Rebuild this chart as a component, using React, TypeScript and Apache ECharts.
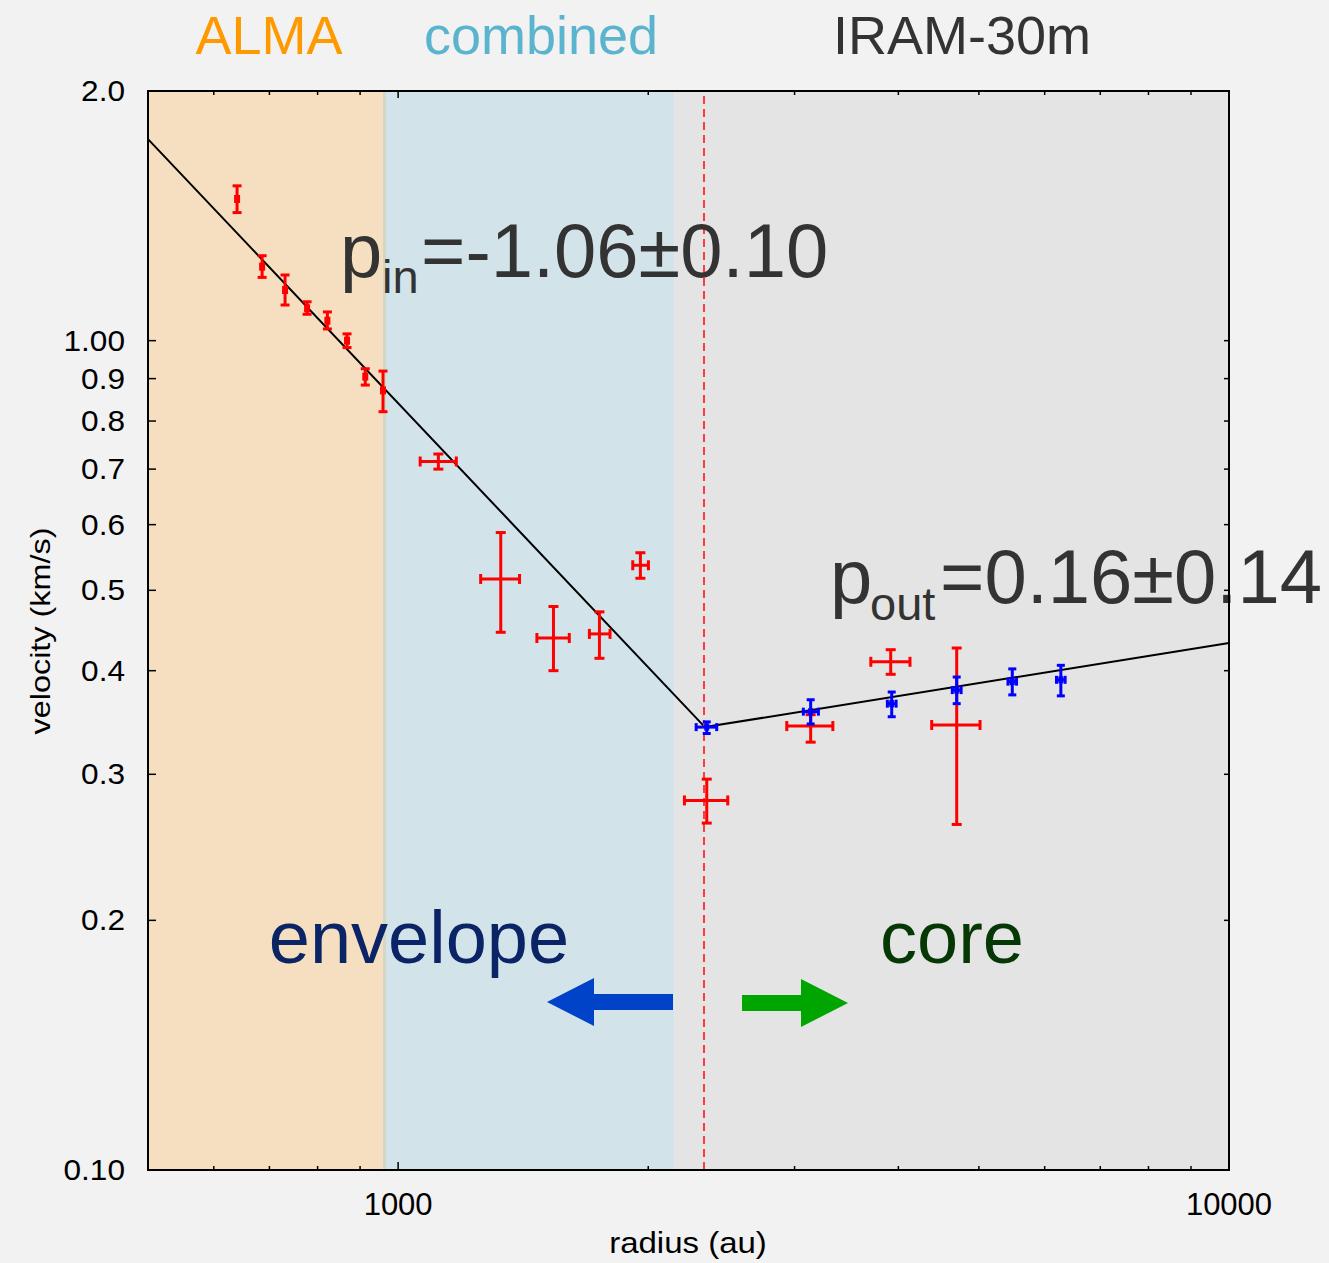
import React, { useEffect, useRef } from "react";
import * as echarts from "echarts";

const FONT = "'Liberation Sans', Arial, Helvetica, sans-serif";

// Axis extents
const RADIUS_MIN = 500;
const RADIUS_MAX = 10000;
const VEL_MIN = 0.1;
const VEL_MAX = 2.0;

// ALMA points (velocity errors only)
const almaRadius = [640, 686, 731, 777, 822, 868, 913, 959];
const almaVelocity = [1.482, 1.228, 1.151, 1.094, 1.057, 1.0, 0.905, 0.871];
const almaVelLow = [1.427, 1.192, 1.104, 1.076, 1.033, 0.981, 0.884, 0.821];
const almaVelHigh = [1.537, 1.266, 1.2, 1.114, 1.083, 1.019, 0.925, 0.919];

// Red points with radius and velocity errors
const redRadius = [1118, 1329, 1538, 1747, 1957, 2352, 3137, 3916, 4702];
const redVelocity = [0.715, 0.516, 0.438, 0.443, 0.536, 0.279, 0.343, 0.41, 0.344];
const redRadLow = [1063, 1257, 1469, 1699, 1916, 2211, 2936, 3706, 4387];
const redRadHigh = [1175, 1400, 1607, 1799, 2001, 2493, 3336, 4131, 5016];
const redVelLow = [0.7, 0.445, 0.4, 0.414, 0.517, 0.262, 0.328, 0.396, 0.261];
const redVelHigh = [0.73, 0.587, 0.478, 0.471, 0.555, 0.296, 0.354, 0.424, 0.426];

// Blue points
const blueRadius = [2352, 3137, 3927, 4702, 5485, 6275];
const blueVelocity = [0.342, 0.357, 0.365, 0.379, 0.388, 0.39];
const blueRadLow = [2284, 3074, 3880, 4645, 5420, 6200];
const blueRadHigh = [2418, 3205, 3975, 4760, 5550, 6350];
const blueVelLow = [0.336, 0.345, 0.352, 0.365, 0.374, 0.373];
const blueVelHigh = [0.347, 0.369, 0.377, 0.393, 0.402, 0.406];

// Broken power-law fit (inner slope -1.06, outer slope 0.16)
const fitRadius = [500, 2340, 10000];
const fitVelocity = [1.75, 0.342, 0.432];

// Transition radius
const breakRadius = 2330;

// Data-source regions along the radius axis
const regionLow = [500, 963, 2150];
const regionHigh = [963, 2150, 10000];
const regionFill = ["#f5dfc0", "#d2e4ea", "#e4e4e4"];

// Tick values and labels
const xMajorTicks = [1000, 10000];
const xMajorLabels = ["1000", "10000"];
const xMinorTicks = [600, 700, 800, 900, 2000, 3000, 4000, 5000, 6000, 7000, 8000, 9000];
const yTicks = [0.1, 0.2, 0.3, 0.4, 0.5, 0.6, 0.7, 0.8, 0.9, 1.0, 2.0];
const yTickLabels = ["0.10", "0.2", "0.3", "0.4", "0.5", "0.6", "0.7", "0.8", "0.9", "1.00", "2.0"];

// place text by its alphabetic baseline (text drawn with central alignment)
const mid = (baseline: number, size: number) => baseline - 0.35 * size;

function rows(r: number[], v: number[], rLo: number[], rHi: number[], vLo: number[], vHi: number[]) {
  return r.map((x, i) => [x, v[i], rLo[i], rHi[i], vLo[i], vHi[i]]);
}

function errorBars(name: string, data: number[][], color: string, lw: number, cap: number, marker: number) {
  return {
    type: "custom",
    name,
    z: 5,
    silent: true,
    data,
    encode: { x: [0, 2, 3], y: [1, 4, 5] },
    renderItem: (_params: any, api: any) => {
      const r = api.value(0);
      const v = api.value(1);
      const c = api.coord([r, v]);
      const left = api.coord([api.value(2), v]);
      const right = api.coord([api.value(3), v]);
      const top = api.coord([r, api.value(5)]);
      const bottom = api.coord([r, api.value(4)]);
      const style = { stroke: color, lineWidth: lw };
      const h = cap / 2;
      const children: any[] = [
        { type: "line", shape: { x1: c[0], y1: top[1], x2: c[0], y2: bottom[1] }, style },
        { type: "line", shape: { x1: c[0] - h, y1: top[1], x2: c[0] + h, y2: top[1] }, style },
        { type: "line", shape: { x1: c[0] - h, y1: bottom[1], x2: c[0] + h, y2: bottom[1] }, style },
      ];
      if (right[0] - left[0] > 1) {
        children.push(
          { type: "line", shape: { x1: left[0], y1: c[1], x2: right[0], y2: c[1] }, style },
          { type: "line", shape: { x1: left[0], y1: c[1] - h, x2: left[0], y2: c[1] + h }, style },
          { type: "line", shape: { x1: right[0], y1: c[1] - h, x2: right[0], y2: c[1] + h }, style }
        );
      }
      if (marker > 0) {
        children.push({
          type: "rect",
          shape: { x: c[0] - marker / 2, y: c[1] - marker / 2 - 1, width: marker, height: marker + 2 },
          style: { fill: color },
        });
      }
      return { type: "group", children };
    },
  };
}

function buildOption(): any {
  const bandData = regionLow.map((lo, i) => [lo, regionHigh[i], VEL_MIN, VEL_MAX]);

  const frameSeries = {
    type: "custom",
    z: 10,
    silent: true,
    data: [[RADIUS_MIN, VEL_MIN]],
    encode: { x: 0, y: 1 },
    renderItem: (_params: any, api: any) => {
      const [x0, y0] = api.coord([RADIUS_MIN, VEL_MIN]);
      const [x1, y1] = api.coord([RADIUS_MAX, VEL_MAX]);
      const tick = { stroke: "#000", lineWidth: 1.5 };
      const children: any[] = [
        {
          type: "rect",
          shape: { x: x0, y: y1, width: x1 - x0, height: y0 - y1 },
          style: { fill: "none", stroke: "#000", lineWidth: 2 },
        },
      ];
      xMajorTicks.forEach((t, i) => {
        const xp = api.coord([t, VEL_MIN])[0];
        children.push(
          { type: "line", shape: { x1: xp, y1: y0, x2: xp, y2: y0 - 8 }, style: tick },
          { type: "line", shape: { x1: xp, y1: y1, x2: xp, y2: y1 + 7 }, style: tick },
          {
            type: "text",
            x: xp,
            y: y0 + 34,
            style: {
              text: xMajorLabels[i],
              fill: "#000",
              font: `31px ${FONT}`,
              textAlign: "center",
              textVerticalAlign: "middle",
            },
          }
        );
      });
      xMinorTicks.forEach((t) => {
        const xp = api.coord([t, VEL_MIN])[0];
        children.push(
          { type: "line", shape: { x1: xp, y1: y0, x2: xp, y2: y0 - 4 }, style: tick },
          { type: "line", shape: { x1: xp, y1: y1, x2: xp, y2: y1 + 4 }, style: tick }
        );
      });
      yTicks.forEach((t, i) => {
        const yp = api.coord([RADIUS_MIN, t])[1];
        children.push(
          { type: "line", shape: { x1: x0, y1: yp, x2: x0 + 8, y2: yp }, style: tick },
          { type: "line", shape: { x1: x1, y1: yp, x2: x1 - 5, y2: yp }, style: tick },
          {
            type: "text",
            x: x0 - 23,
            y: yp,
            scaleX: 1.09,
            style: {
              text: yTickLabels[i],
              fill: "#000",
              font: `29px ${FONT}`,
              textAlign: "right",
              textVerticalAlign: "middle",
            },
          }
        );
      });
      return { type: "group", children };
    },
  };

  const txt = (text: string, x: number, y: number, size: number, fill: string, align = "left", extra: any = {}) => ({
    type: "text",
    x,
    y,
    z: 6,
    silent: true,
    ...extra,
    style: { text, fill, font: `${size}px ${FONT}`, textAlign: align, textVerticalAlign: "middle" },
  });

  return {
    animation: false,
    backgroundColor: "#f2f2f2",
    grid: { left: 148, top: 91, width: 1081, height: 1079, show: false },
    xAxis: {
      type: "log",
      logBase: 10,
      min: RADIUS_MIN,
      max: RADIUS_MAX,
      axisLine: { show: false },
      axisTick: { show: false },
      axisLabel: { show: false },
      splitLine: { show: false },
    },
    yAxis: {
      type: "log",
      logBase: 10,
      min: VEL_MIN,
      max: VEL_MAX,
      axisLine: { show: false },
      axisTick: { show: false },
      axisLabel: { show: false },
      splitLine: { show: false },
    },
    series: [
      {
        type: "custom",
        z: 1,
        silent: true,
        data: bandData,
        encode: { x: [0, 1], y: [2, 3] },
        renderItem: (params: any, api: any) => {
          const p0 = api.coord([api.value(0), api.value(3)]);
          const p1 = api.coord([api.value(1), api.value(2)]);
          const children: any[] = [
            {
              type: "rect",
              shape: { x: p0[0], y: p0[1], width: p1[0] - p0[0], height: p1[1] - p0[1] },
              style: { fill: regionFill[params.dataIndex] },
            },
          ];
          if (params.dataIndex === 1) {
            children.push({
              type: "line",
              shape: { x1: p0[0], y1: p0[1], x2: p0[0], y2: p1[1] },
              style: { stroke: "#d4d7c6", lineWidth: 3 },
            });
          }
          return { type: "group", children };
        },
      },
      {
        type: "line",
        z: 3,
        data: fitRadius.map((r, i) => [r, fitVelocity[i]]),
        symbol: "none",
        lineStyle: { color: "#000", width: 2 },
        silent: true,
        markLine: {
          silent: true,
          symbol: "none",
          label: { show: false },
          lineStyle: { color: "#ff3b3b", width: 2, type: [8, 5] },
          data: [{ xAxis: breakRadius }],
        },
      },
      errorBars("alma", rows(almaRadius, almaVelocity, almaRadius, almaRadius, almaVelLow, almaVelHigh), "#ff0000", 3, 9, 6),
      errorBars("red", rows(redRadius, redVelocity, redRadLow, redRadHigh, redVelLow, redVelHigh), "#ff0000", 3, 10, 0),
      errorBars("blue", rows(blueRadius, blueVelocity, blueRadLow, blueRadHigh, blueVelLow, blueVelHigh), "#0000ff", 3, 8, 5),
      frameSeries,
    ],
    graphic: [
      txt("ALMA", 269, mid(54, 54), 54, "#ff9900", "center"),
      txt("combined", 541, mid(54, 54), 54, "#5ab4ce", "center"),
      txt("IRAM-30m", 962, mid(54, 54), 54, "#333333", "center"),

      txt("p", 340, mid(277, 76), 76, "#333333"),
      txt("in", 382, mid(293, 47), 47, "#333333"),
      txt("=-1.06\u00b10.10", 421, mid(277, 76), 76, "#333333"),

      txt("p", 830, mid(603, 76), 76, "#333333"),
      txt("out", 870, mid(620, 47), 47, "#333333"),
      txt("=0.16\u00b10.14", 940, mid(603, 76), 76, "#333333"),

      txt("envelope", 419, mid(963, 74), 74, "#0a2466", "center"),
      txt("core", 952, mid(963, 74), 74, "#063806", "center"),

      {
        type: "polygon",
        z: 6,
        silent: true,
        shape: {
          points: [
            [547, 1002],
            [594, 978],
            [594, 994],
            [673, 994],
            [673, 1010],
            [594, 1010],
            [594, 1026],
          ],
        },
        style: { fill: "#0043c8" },
      },
      {
        type: "polygon",
        z: 6,
        silent: true,
        shape: {
          points: [
            [742, 995],
            [801, 995],
            [801, 979],
            [848, 1003],
            [801, 1027],
            [801, 1011],
            [742, 1011],
          ],
        },
        style: { fill: "#00a500" },
      },

      txt("radius (au)", 688, 1243, 30, "#000", "center", { scaleX: 1.1 }),
      txt("velocity (km/s)", 40, 631, 27, "#000", "center", { rotation: Math.PI / 2, scaleX: 1.2 }),
    ],
  };
}

export default function App() {
  const ref = useRef<HTMLDivElement>(null);
  useEffect(() => {
    document.body.style.margin = "0";
    document.body.style.background = "#f2f2f2";
    const chart = echarts.init(ref.current!, null, { renderer: "svg" });
    chart.setOption(buildOption());
    return () => chart.dispose();
  }, []);
  return <div ref={ref} style={{ width: 1329, height: 1263 }} />;
}
